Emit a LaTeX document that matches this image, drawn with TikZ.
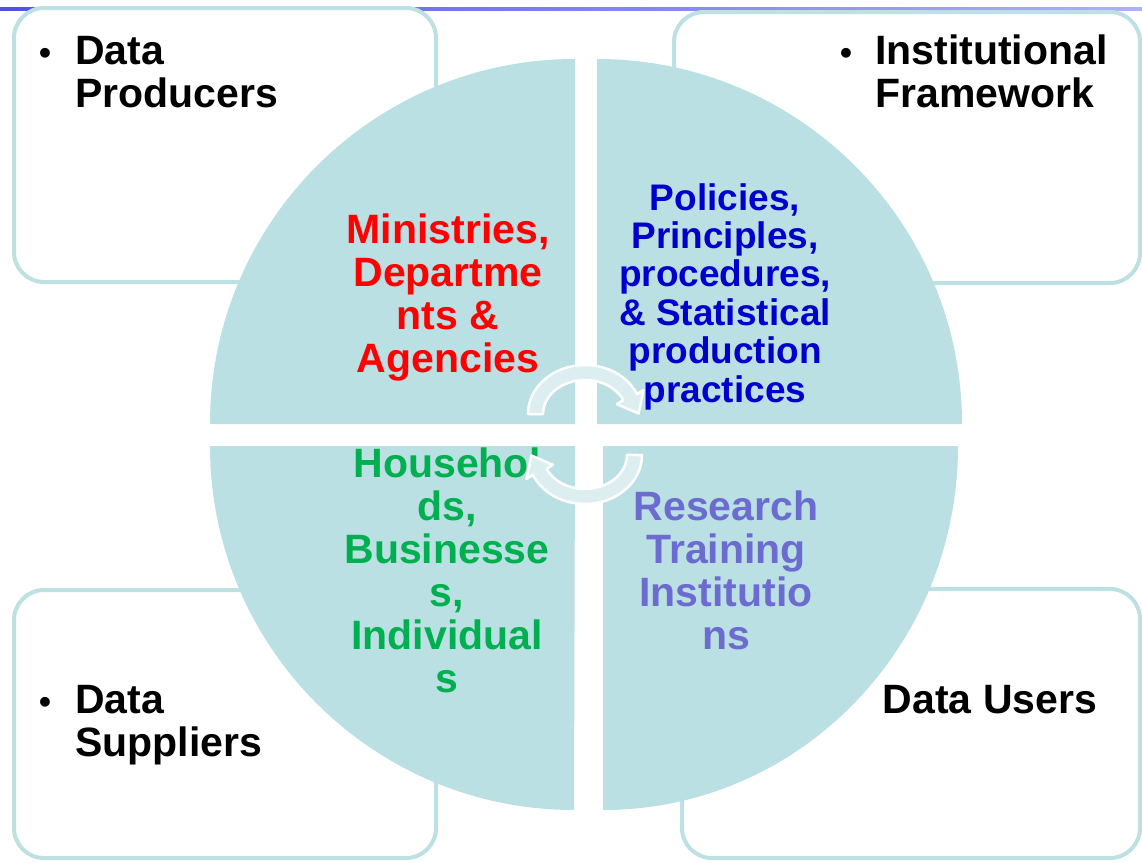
\documentclass[tikz,border=0pt]{standalone}
\usepackage{fontspec}
\setmainfont{Liberation Sans}
\definecolor{quadc}{RGB}{186,224,227}
\definecolor{boxc}{RGB}{189,225,227}
\definecolor{arrc}{RGB}{220,238,240}
\definecolor{redt}{RGB}{255,0,0}
\definecolor{bluet}{RGB}{0,0,204}
\definecolor{greent}{RGB}{0,176,80}
\definecolor{purpt}{RGB}{108,108,208}
\definecolor{lineL}{RGB}{80,80,230}
\definecolor{lineR}{RGB}{175,175,250}
\newcommand\mystackc[1]{\begin{tabular}[t]{@{}c@{}}#1\end{tabular}}
\newcommand\mystackl[1]{\begin{tabular}[t]{@{}l@{}}#1\end{tabular}}
\begin{document}
\begin{tikzpicture}[x=1pt,y=1pt,
  bigtxt/.style={font=\bfseries\fontsize{41}{43}\selectfont, inner sep=0pt},
  midtxt/.style={font=\bfseries\fontsize{37}{38.4}\selectfont, inner sep=0pt},
  bul/.style={font=\bfseries\fontsize{34}{40}\selectfont, inner sep=0pt, anchor=base},
  boxframe/.style={draw=boxc, line width=4pt, fill=white, rounded corners=30pt},
  quad/.style={fill=quadc},
  cyc/.style={fill=arrc, draw=white, line width=2.5pt, line join=round}]
\useasboundingbox (0,0) rectangle (1142,-862);
\fill[white] (0,0) rectangle (1142,-862);
% top line
\shade[left color=lineL, right color=lineR] (0,-7.5) rectangle (1142,-10.5);
% boxes
\draw[boxframe] (14,-8) rectangle (436,-282);
\draw[boxframe] (674,-12) rectangle (1140,-283);
\draw[boxframe] (14,-590) rectangle (436,-858);
\draw[boxframe] (682,-589) rectangle (1140,-858);
% quadrants
\fill[quad] (575,-424) -- (210,-424) arc[start angle=180,end angle=90,radius=365] -- cycle;
\fill[quad] (597,-424) -- (597,-59) arc[start angle=90,end angle=0,radius=365] -- cycle;
\fill[quad] (575,-446) -- (210,-446) arc[start angle=180,end angle=270,radius=364] -- cycle;
\fill[quad] (603,-446) -- (603,-810) arc[start angle=270,end angle=360,x radius=355,y radius=364] -- cycle;
% box labels
\node[bul] (b1) at (45,-64) {•};
\node[bigtxt, anchor=base west] (prod) at (75,-64) {\mystackl{Data\\Producers}};
\node[bul] (b2) at (846,-64) {•};
\node[bigtxt, anchor=base west] (inst) at (875,-64) {\mystackl{Institutional\\Framework}};
\node[bul] (b3) at (45,-713) {•};
\node[bigtxt, anchor=base west] (supp) at (75,-713) {\mystackl{Data\\Suppliers}};
\node[bigtxt, anchor=base] (users) at (990,-713) {Data Users};
% quadrant labels
\node[bigtxt, text=redt, anchor=base] (mda) at (448,-243) {\mystackc{Ministries,\\Departme\\nts \&\\Agencies}};
\node[midtxt, text=bluet, anchor=base] (pol) at (725,-210) {\mystackc{Policies,\\Principles,\\procedures,\\\& Statistical\\production\\practices}};
\node[bigtxt, text=greent, anchor=base] (hh) at (447,-477) {\mystackc{Househol\\ds,\\Businesse\\s,\\Individual\\s}};
\node[bigtxt, text=purpt, anchor=base] (rti) at (726,-520) {\mystackc{Research\\Training\\Institutio\\ns}};
% circular arrows
\path[cyc] (528,-414) arc[start angle=180,end angle=24,x radius=57,y radius=49]
  -- (643.5,-390) -- (638.6,-413.5) -- (617,-404.2) -- (623.4,-400.2)
  arc[start angle=24,end angle=180,x radius=42,y radius=34] -- cycle;
\begin{scope}[rotate around={180:(585,-434.5)}]
\path[cyc] (528,-414) arc[start angle=180,end angle=24,x radius=57,y radius=49]
  -- (643.5,-390) -- (638.6,-413.5) -- (617,-404.2) -- (623.4,-400.2)
  arc[start angle=24,end angle=180,x radius=42,y radius=34] -- cycle;
\end{scope}
\end{tikzpicture}
\end{document}
